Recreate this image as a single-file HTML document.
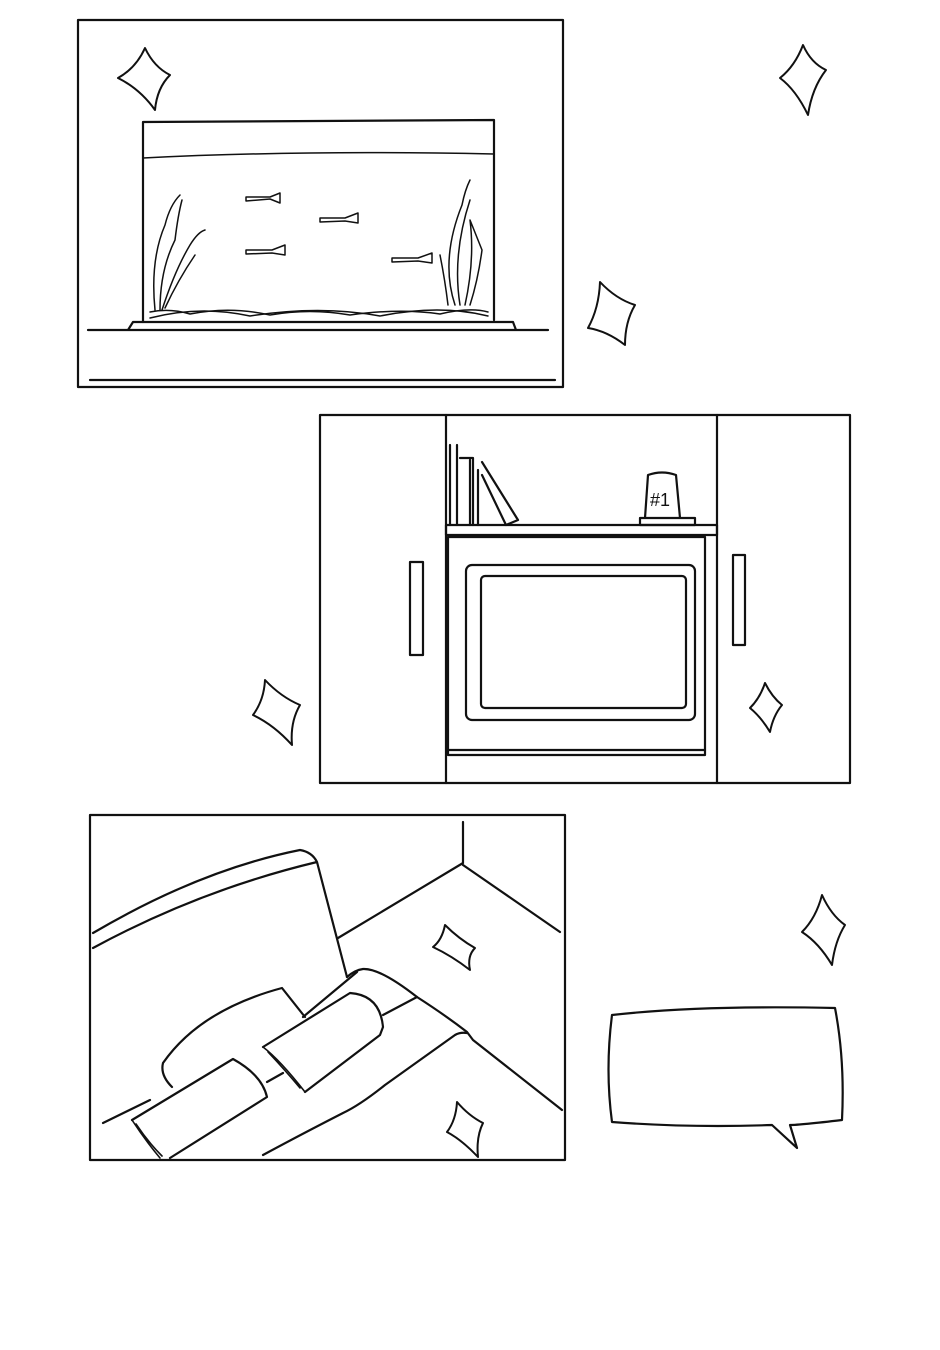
<!DOCTYPE html>
<html><head><meta charset="utf-8"><style>html,body{margin:0;padding:0;background:#fff}svg{display:block}</style></head>
<body>
<svg width="940" height="1350" viewBox="0 0 940 1350" xmlns="http://www.w3.org/2000/svg" fill="none" stroke="#111" stroke-width="2.2" stroke-linecap="round" stroke-linejoin="round">
<g stroke-width="2">
<path d="M145,48 Q154,67 170,75 Q157,88 155,110 Q140,89 118,78 Q136,68 145,48Z"/>
<path d="M803,45 Q811,63 826,70 Q812,88 808,115 Q796,90 780,78 Q795,66 803,45Z"/>
<path d="M600,282 Q616,299 635,305 Q625,322 625,345 Q607,331 588,328 Q599,308 600,282Z"/>
<path d="M265,680 Q281,697 300,705 Q290,722 292,745 Q274,725 253,715 Q264,700 265,680Z"/>
<path d="M765,683 Q772,697 782,705 Q773,716 770,732 Q761,717 750,708 Q760,698 765,683Z"/>
<path d="M445,925 Q459,939 475,948 Q467,956 470,970 Q452,956 433,947 Q442,940 445,925Z"/>
<path d="M822,895 Q831,915 845,925 Q835,941 832,965 Q819,943 802,932 Q816,918 822,895Z"/>
<path d="M457,1102 Q469,1116 483,1123 Q476,1137 478,1157 Q462,1140 447,1132 Q456,1120 457,1102Z"/>
</g>
<rect x="78" y="20" width="485" height="367"/>
<path d="M143,122 L143,322 M494,120 L494,320 M143,122 L494,120"/>
<path d="M143,158 Q300,150 494,154" stroke-width="1.5"/>
<path d="M88,330 L548,330 M128,330 L133,322 L513,322 L516,330 M90,380 L555,380"/>
<path d="M150,318 Q200,305 250,316 Q320,305 380,316 Q440,304 488,316" stroke-width="1.5"/>
<path d="M150,312 Q170,308 190,314 Q230,306 270,315 Q310,308 350,315 Q400,308 440,314 Q470,307 488,312" stroke-width="1.5"/>
<g stroke-width="1.5">
<path d="M246,197 L270,197 L280,193 L280,203 L270,199 L246,201Z"/>
<path d="M320,218 L345,218 L358,213 L358,223 L345,221 L320,222Z"/>
<path d="M246,250 L272,250 L285,245 L285,255 L272,253 L246,254Z"/>
<path d="M392,258 L418,258 L432,253 L432,263 L418,261 L392,262Z"/>
<path d="M155,310 Q150,260 165,225 Q170,205 180,195 M160,310 Q160,270 175,240 Q178,215 182,200"/>
<path d="M162,310 Q175,270 190,245 Q198,232 205,230 M165,308 Q178,280 195,255"/>
<path d="M455,305 Q440,260 462,205 Q465,190 470,180 M460,305 Q452,255 470,200"/>
<path d="M465,305 Q475,260 470,220 Q478,240 482,250 Q478,280 470,305"/>
<path d="M448,305 Q445,280 440,255"/>
</g>
<rect x="320" y="415" width="530" height="368"/>
<path d="M446,415 L446,783 M717,415 L717,783"/>
<path d="M446,525 L717,525 L717,535 L446,535Z"/>
<rect x="448" y="537" width="257" height="218"/>
<path d="M448,750 L705,750"/>
<rect x="466" y="565" width="229" height="155" rx="6"/>
<rect x="481" y="576" width="205" height="132" rx="4"/>
<rect x="410" y="562" width="13" height="93"/>
<rect x="733" y="555" width="12" height="90"/>
<path d="M450,445 L450,525 M457,445 L457,525 M460,458 L473,458 L473,525 M470,460 L470,525 M478,470 L478,525 M482,462 L518,520 L506,525 L482,475"/>
<path d="M648,475 Q662,470 676,475 L680,518 L645,518Z M640,518 L695,518 L695,525 L640,525Z"/>
<text x="650" y="506" font-family="Liberation Sans, sans-serif" font-size="18" fill="#111" stroke="none">#1</text>
<rect x="90" y="815" width="475" height="345"/>
<path d="M463,822 L463,863 M463,863 L338,938 M463,865 L560,932"/>
<path d="M93,933 Q200,870 300,850 Q312,852 317,862 M93,948 Q200,890 317,862 L347,977"/>
<path d="M347,977 Q355,970 363,969 Q380,968 417,997 Q445,1015 467,1032 Q470,1036 473,1040 L562,1110"/>
<path d="M467,1033 Q460,1032 455,1035 Q420,1060 385,1085 Q360,1105 343,1113 Q300,1135 263,1155"/>
<path d="M357,972 L303,1017"/>
<path d="M417,997 L383,1015"/>
<path d="M267,1082 L283,1073 M103,1123 L150,1100"/>
<path d="M172,1087 Q160,1075 163,1063 Q200,1010 282,988 L305,1017"/>
<path d="M263,1047 L350,993 Q380,995 383,1027 L380,1035 L305,1092"/>
<path d="M263,1047 Q280,1060 305,1092 M268,1052 Q285,1070 300,1088" stroke-width="1.6"/>
<path d="M132,1120 L233,1059 Q262,1075 267,1097 L170,1158"/>
<path d="M132,1120 Q145,1140 160,1158 M136,1124 Q148,1142 162,1156" stroke-width="1.6"/>
<path d="M612,1015 Q700,1005 835,1008 Q845,1060 842,1120 Q800,1125 790,1125 L797,1148 L772,1125 Q690,1128 612,1122 Q605,1070 612,1015Z"/>
</svg>
</body></html>
